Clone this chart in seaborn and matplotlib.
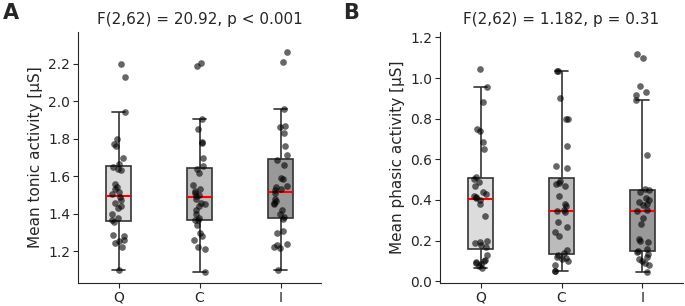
# Libraries
import numpy as np
import pandas as pd
import seaborn as sns
import matplotlib.pyplot as plt

# -----------------------------------
# Configuration
# -----------------------------------
sns.set_style("ticks")
plt.rcParams['font.family'] = ['DejaVu Sans']
np.random.seed(3)

# -----------------------------------
# Data
# -----------------------------------
conditions = ['Q', 'C', 'I']
box_colors = ['#dcdcdc', '#bbbbbb', '#999999']

tonic_q = [1.10, 1.225, 1.245, 1.255, 1.26, 1.28, 1.29, 1.355, 1.365, 1.38,
           1.40, 1.43, 1.44, 1.46, 1.475, 1.49, 1.505, 1.515, 1.53, 1.545,
           1.56, 1.635, 1.64, 1.648, 1.665, 1.70, 1.76, 1.77, 1.80, 1.94,
           2.13, 2.20]
tonic_c = [1.09, 1.215, 1.225, 1.26, 1.28, 1.30, 1.34, 1.365, 1.369, 1.38,
           1.40, 1.42, 1.44, 1.455, 1.46, 1.48, 1.495, 1.50, 1.51, 1.52,
           1.53, 1.555, 1.615, 1.641, 1.655, 1.70, 1.775, 1.785, 1.85, 1.905,
           2.185, 2.205]
tonic_i = [1.10, 1.22, 1.225, 1.235, 1.24, 1.30, 1.31, 1.37, 1.383, 1.40,
           1.42, 1.45, 1.46, 1.47, 1.48, 1.51, 1.525, 1.53, 1.545, 1.55,
           1.585, 1.59, 1.66, 1.687, 1.715, 1.76, 1.83, 1.865, 1.87, 1.96,
           2.21, 2.26]

phasic_q = [0.067, 0.075, 0.085, 0.09, 0.095, 0.10, 0.105, 0.13, 0.168, 0.18,
            0.19, 0.195, 0.20, 0.32, 0.38, 0.40, 0.41, 0.415, 0.42, 0.43,
            0.44, 0.47, 0.49, 0.505, 0.515, 0.65, 0.685, 0.74, 0.75, 0.88,
            0.954, 1.045]
phasic_c = [0.048, 0.05, 0.08, 0.10, 0.11, 0.115, 0.12, 0.128, 0.137, 0.155,
            0.22, 0.24, 0.265, 0.29, 0.34, 0.345, 0.35, 0.37, 0.38, 0.42,
            0.47, 0.48, 0.485, 0.491, 0.555, 0.565, 0.665, 0.80, 0.80, 0.90,
            1.033, 1.035]
phasic_i = [0.045, 0.08, 0.09, 0.10, 0.11, 0.12, 0.135, 0.145, 0.15, 0.16,
            0.195, 0.20, 0.21, 0.28, 0.31, 0.345, 0.35, 0.375, 0.38, 0.39,
            0.40, 0.41, 0.44, 0.45, 0.453, 0.62, 0.89, 0.915, 0.93, 0.96,
            1.10, 1.12]

tonic_title = 'F(2,62) = 20.92, p < 0.001'
phasic_title = 'F(2,62) = 1.182, p = 0.31'


# -----------------------------------
# Methods
# -----------------------------------
def to_long(values):
    """Stack the three conditions into one long frame."""
    return pd.DataFrame({
        'cond': np.repeat(conditions, [len(v) for v in values]),
        'value': np.concatenate(values),
    })


def draw_panel(ax, df, title, ylabel, ylim, ticks):
    sns.boxplot(data=df, x='cond', y='value', hue='cond', order=conditions,
                palette=dict(zip(conditions, box_colors)), legend=False,
                width=0.3, whis=1.5, showfliers=False, linewidth=1.2,
                linecolor='#333333', saturation=1,
                medianprops=dict(color='red', linewidth=1.5), ax=ax)
    sns.stripplot(data=df, x='cond', y='value', order=conditions,
                  color='black', alpha=0.6, size=4.8, jitter=0.09, ax=ax)
    ax.set_ylim(*ylim)
    ax.set_xlim(-0.5, 2.5)
    ax.set_yticks(ticks)
    ax.set_xlabel('')
    ax.set_ylabel(ylabel, fontsize=11)
    ax.set_title(title, fontsize=11)
    ax.tick_params(labelsize=10, pad=2)
    sns.despine(ax=ax)


# -----------------------------------
# Figure
# -----------------------------------
fig = plt.figure(figsize=(6.85, 3.06), dpi=100)
ax_a = fig.add_axes([78 / 685, 1 - 283 / 306, 243 / 685, 251 / 306])
ax_b = fig.add_axes([440 / 685, 1 - 283 / 306, 243 / 685, 251 / 306])

draw_panel(ax_a, to_long([tonic_q, tonic_c, tonic_i]), tonic_title,
           'Mean tonic activity [µS]', (1.032, 2.368),
           [1.2, 1.4, 1.6, 1.8, 2.0, 2.2])
draw_panel(ax_b, to_long([phasic_q, phasic_c, phasic_i]), phasic_title,
           'Mean phasic activity [µS]', (-0.009, 1.227),
           [0.0, 0.2, 0.4, 0.6, 0.8, 1.0, 1.2])

fig.text(3 / 685, 1 - 13 / 306, 'A', fontsize=15, fontweight='bold', va='center')
fig.text(343 / 685, 1 - 13 / 306, 'B', fontsize=15, fontweight='bold', va='center')

fig.savefig('out.png', dpi=100)
